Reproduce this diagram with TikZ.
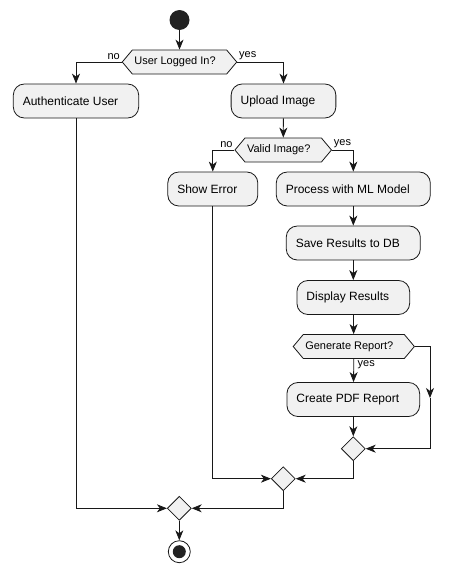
\documentclass[tikz,border=0pt]{standalone}
\usepackage{fontspec}
\setmainfont{Liberation Sans}
\usetikzlibrary{shapes.geometric,shapes.symbols,arrows.meta}
\definecolor{actfill}{HTML}{F1F1F1}
\definecolor{actline}{HTML}{181818}
\definecolor{dotfill}{HTML}{222222}
\begin{document}
\begin{tikzpicture}[x=1pt, y=-1pt,
  act/.style={rectangle, rounded corners=11pt, draw=actline, fill=actfill, line width=0.8pt, minimum height=34pt, inner xsep=9.5pt, execute at end node={\hspace*{11pt}}, font=\fontsize{12}{14}\selectfont},
  dec/.style={signal, signal to=west and east, signal pointer angle=100, draw=actline, fill=actfill, line width=0.8pt, minimum height=24pt, inner xsep=2pt, inner ysep=0pt, execute at end node={\hspace*{9pt}}, font=\fontsize{11}{13}\selectfont},
  mrg/.style={diamond, draw=actline, fill=actfill, line width=0.8pt, minimum width=24pt, minimum height=24pt, inner sep=0pt},
  flow/.style={draw=actline, line width=0.8pt, -{Stealth[length=10pt,width=8pt,inset=3pt]}},
  lbl/.style={font=\fontsize{11}{13}\selectfont, inner sep=1.5pt}]
\useasboundingbox (0,0) rectangle (454,573);
\node[circle, fill=dotfill, minimum size=20pt, inner sep=0pt] (start) at (179.5,20){};
\node[dec] (logged) at (179.5,62){User Logged In?};
\node[act] (auth) at (76,101){Authenticate User};
\node[act] (upload) at (283.5,101){Upload Image};
\node[dec] (valid) at (283.2,150){Valid Image?};
\node[act] (showerr) at (212.8,189){Show Error};
\node[act] (process) at (353.3,189){Process with ML Model};
\node[act] (save) at (353.3,243){Save Results to DB};
\node[act] (display) at (353.3,297.5){Display Results};
\node[dec] (report) at (353.8,346.5){Generate Report?};
\node[act] (pdf) at (353.3,399.5){Create PDF Report};
\node[mrg] (merge1) at (353.3,448.7){};
\node[mrg] (merge2) at (283.3,478.7){};
\node[mrg] (merge3) at (179.3,508.3){};
\node[circle, draw=actline, fill=white, line width=0.8pt, minimum size=22pt, inner sep=0pt,
  path picture={\fill[dotfill] (path picture bounding box.center) circle (6.5pt);}] (stop) at (179.3,551.7){};
\coordinate (skip) at (430,398);
% first decision
\draw[flow](start) -- (logged);
\draw[flow](logged.west) node[lbl, above left] (no1) {no} -| (auth);
\draw[flow](logged.east) node[lbl, above right] (yes1) {yes} -| (upload);
% second decision
\draw[flow](upload) -- (valid);
\draw[flow](valid.west) node[lbl, above left] (no2) {no} -| (showerr);
\draw[flow](valid.east) node[lbl, above right] (yes2) {yes} -| (process);
\draw[flow](process) -- (save);
\draw[flow](save) -- (display);
\draw[flow](display) -- (report);
% third decision
\draw[flow](report.south) node[lbl, below right, xshift=2pt] (yes3) {yes} -- (pdf);
\draw[flow](report.east) -| (skip);
\draw[flow](skip) |- (merge1);
\draw[flow](pdf) -- (merge1);
% merges
\draw[flow](merge1) |- (merge2);
\draw[flow](showerr) |- (merge2);
\draw[flow](merge2) |- (merge3);
\draw[flow](auth) |- (merge3);
\draw[flow](merge3) -- (stop);
\end{tikzpicture}
\end{document}
